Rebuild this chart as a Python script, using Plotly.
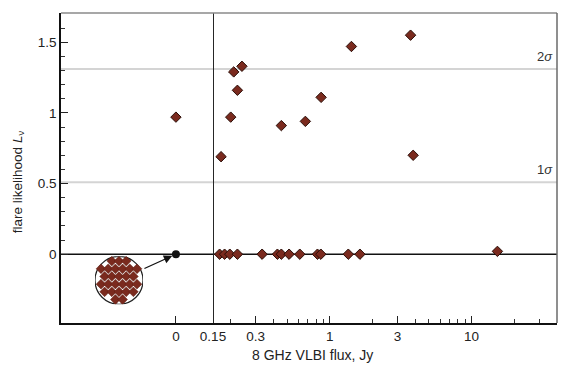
import numpy as np
import plotly.graph_objects as go

# ---- data -------------------------------------------------------------
# sources without a VLBI detection, plotted at flux 0 (left panel)
undetected_flux = [0.0]
undetected_likelihood = [0.97]
# number of undetected sources with zero likelihood (shown magnified in the inset)
undetected_null_count = 28

# VLBI-detected sources with a non-zero flare likelihood
flux_jy = [0.171, 0.200, 0.210, 0.223, 0.240, 0.455, 0.672, 0.868, 1.42, 3.71, 3.87]
likelihood = [0.69, 0.97, 1.29, 1.16, 1.33, 0.91, 0.94, 1.11, 1.47, 1.55, 0.70]

# VLBI-detected sources with zero flare likelihood
flux_jy_null = [0.167, 0.181, 0.197, 0.223, 0.333, 0.427, 0.455, 0.516,
                0.614, 0.818, 0.864, 1.35, 1.63, 15.2]
likelihood_null = [0, 0, 0, 0, 0, 0, 0, 0, 0, 0, 0, 0, 0, 0.02]

# significance levels
sigma_levels = [0.51, 1.31]
sigma_labels = ["1<i>σ</i>", "2<i>σ</i>"]

# axis ticks
y_ticks = [0, 0.5, 1, 1.5]
y_ticktext = ["0", "0.5", "1", "1.5"]
y_minor = [0.1, 0.2, 0.3, 0.4, 0.6, 0.7, 0.8, 0.9, 1.1, 1.2, 1.3, 1.4, 1.6]
x_left_ticks = [0]
x_left_ticktext = ["0"]
x_ticks = [0.15, 0.3, 1, 3, 10]
x_ticktext = ["0.15", "0.3", "1", "3", "10"]
x_minor = [0.2, 0.4, 0.5, 0.6, 0.7, 0.8, 0.9, 2, 4, 5, 6, 7, 8, 9, 20, 30]
x_break = 0.15
x_max = 40

# ---- styling ------------------------------------------------------------
FONT = "Liberation Sans, Arial, sans-serif"
TICK_SIZE = 13.5
MARK_FILL = "#7a2a1e"
MARK_EDGE = "#2a0e08"
marker = dict(symbol="diamond", size=8, color=MARK_FILL,
              line=dict(color=MARK_EDGE, width=1))

split = 152 / 496  # width share of the zero-flux panel

fig = go.Figure()

# left panel: zero flux
fig.add_trace(go.Scatter(x=undetected_flux, y=undetected_likelihood, mode="markers",
                         marker=marker, xaxis="x", yaxis="y", showlegend=False))
fig.add_trace(go.Scatter(x=[0], y=[0], mode="markers",
                         marker=dict(symbol="circle", size=8, color="#111"),
                         xaxis="x", yaxis="y", showlegend=False))

# right panel: log flux
fig.add_trace(go.Scatter(x=flux_jy_null, y=likelihood_null, mode="markers",
                         marker=marker, xaxis="x2", yaxis="y", showlegend=False))
fig.add_trace(go.Scatter(x=flux_jy, y=likelihood, mode="markers",
                         marker=marker, xaxis="x2", yaxis="y", showlegend=False))

# inset: the pile of zero-flux / zero-likelihood sources, magnified
ix, iy = [], []
row_step, col_step = 0.32, 0.30
rows = np.arange(-2.5, 3.0, 1.0)
for k, r in enumerate(rows):
    yy = r * row_step
    off = 0.0 if k % 2 == 0 else col_step / 2
    for c in np.arange(-4, 5):
        xx = c * col_step + off
        if xx ** 2 + yy ** 2 <= 0.9 ** 2 and len(ix) < undetected_null_count:
            ix.append(xx)
            iy.append(-yy)
fig.add_trace(go.Scatter(x=ix, y=iy, mode="markers",
                         marker=dict(symbol="diamond", size=7.5, color=MARK_FILL,
                                     line=dict(color="#5a1c12", width=0.5)),
                         xaxis="x3", yaxis="y3", showlegend=False))

axis_common = dict(showgrid=False, zeroline=False, showline=True,
                   linecolor="#111", linewidth=1.5, ticks="inside",
                   tickcolor="#222", tickwidth=1.2, ticklen=7,
                   tickfont=dict(family=FONT, size=TICK_SIZE, color="#222"))

shapes = []
# significance lines
for lvl in sigma_levels:
    shapes.append(dict(type="line", xref="paper", yref="y", x0=0, x1=1, y0=lvl, y1=lvl,
                       line=dict(color="#d4d4d4", width=2), layer="below"))
# zero-likelihood baseline
shapes.append(dict(type="line", xref="paper", yref="y", x0=0, x1=1, y0=0, y1=0,
                   line=dict(color="#111", width=1.5), layer="below"))
# axis break at the flux threshold
shapes.append(dict(type="line", xref="x2", yref="paper", x0=x_break, x1=x_break, y0=0, y1=1,
                   line=dict(color="#262626", width=2)))
# top and right frame
shapes.append(dict(type="line", xref="paper", yref="paper", x0=0, x1=1, y0=1, y1=1,
                   line=dict(color="#8a8a8a", width=1.3)))
shapes.append(dict(type="line", xref="paper", yref="paper", x0=1, x1=1, y0=0, y1=1,
                   line=dict(color="#6a6a6a", width=1.5)))
# inset circle
shapes.append(dict(type="circle", xref="x3", yref="y3", x0=-1, x1=1, y0=-1, y1=1,
                   line=dict(color="#222", width=1.2), fillcolor="white", layer="below"))

annotations = []
for lvl, txt in zip(sigma_levels, sigma_labels):
    annotations.append(dict(xref="paper", yref="y", x=0.996, y=lvl, text=txt,
                            showarrow=False, xanchor="right", yanchor="bottom", yshift=3,
                            font=dict(family=FONT, size=13, color="#333")))
annotations.append(dict(xref="x", yref="y", x=0, y=0, ax=-33, ay=15, text="",
                        showarrow=True, arrowhead=2, arrowsize=1.3, arrowwidth=1.3,
                        arrowcolor="#111", standoff=4, startstandoff=0))
annotations.append(dict(xref="paper", yref="paper", x=-0.087, y=0.457, textangle=-90,
                        xanchor="center", yanchor="middle",
                        text="flare likelihood <i>L</i><sub>ν</sub>", showarrow=False,
                        font=dict(family=FONT, size=13.5, color="#222")))
annotations.append(dict(xref="paper", yref="paper", x=0.508, y=-0.104,
                        xanchor="center", yanchor="middle",
                        text="8 GHz VLBI flux, Jy", showarrow=False,
                        font=dict(family=FONT, size=14, color="#222")))

cx, cy, rad_x, rad_y = (119 - 61) / 496, (322.7 - 280) / 310, 24 / 496, 24 / 310

fig.update_layout(
    width=561, height=369,
    margin=dict(l=61, r=4, t=13, b=46),
    paper_bgcolor="white", plot_bgcolor="white",
    xaxis=dict(axis_common, domain=[0, split], range=[-3.1, 1.0], anchor="y",
               tickmode="array", tickvals=x_left_ticks, ticktext=x_left_ticktext),
    xaxis2=dict(axis_common, domain=[split, 1], type="log",
                range=[np.log10(x_break), np.log10(x_max)], anchor="y",
                tickmode="array", tickvals=x_ticks, ticktext=x_ticktext,
                minor=dict(tickmode="array", tickvals=x_minor, ticks="inside",
                           ticklen=4, tickcolor="#333", tickwidth=1)),
    yaxis=dict(axis_common, range=[-0.487, 1.707], anchor="x",
               tickmode="array", tickvals=y_ticks, ticktext=y_ticktext,
               minor=dict(tickmode="array", tickvals=y_minor, ticks="inside",
                          ticklen=4, tickcolor="#333", tickwidth=1)),
    xaxis3=dict(domain=[cx - rad_x, cx + rad_x], range=[-1, 1], anchor="y3",
                visible=False, fixedrange=True),
    yaxis3=dict(domain=[cy - rad_y, cy + rad_y], range=[-1, 1], anchor="x3",
                visible=False, fixedrange=True),
    shapes=shapes,
    annotations=annotations,
)

fig.write_html("out.html")
